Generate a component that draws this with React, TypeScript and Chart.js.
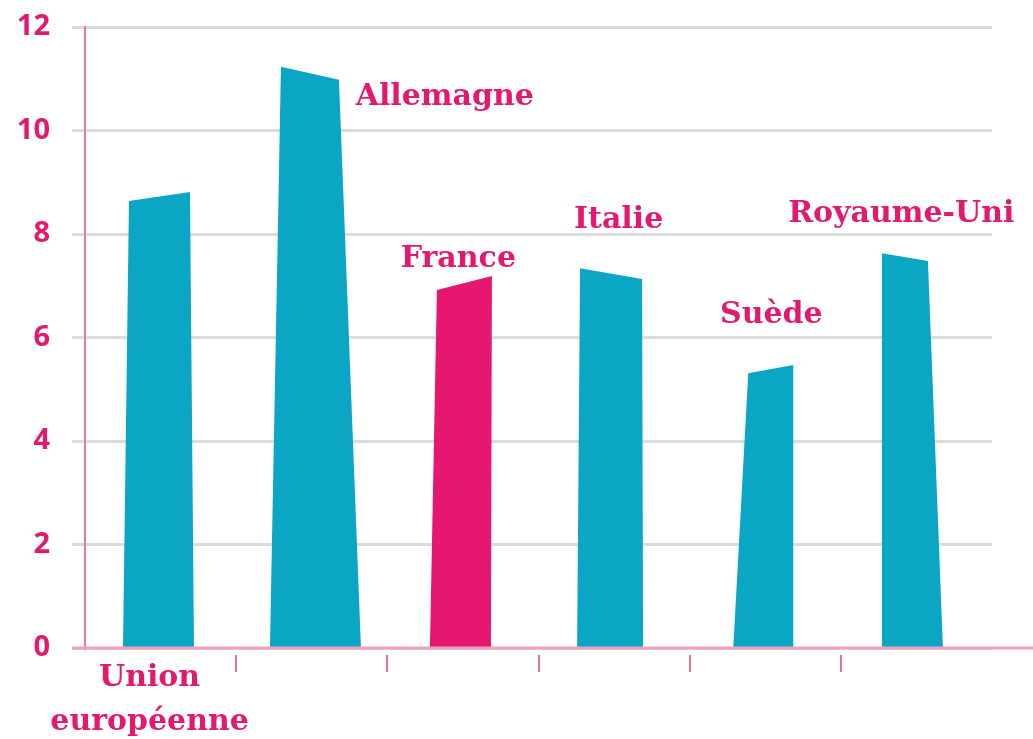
import React, { useEffect, useRef } from "react";
import { Chart, registerables } from "chart.js";

Chart.register(...registerables);

// ---- data ----
const categories = ["Union européenne", "Allemagne", "France", "Italie", "Suède", "Royaume-Uni"];
const topLeftValues = [8.64, 11.23, 6.92, 7.34, 5.31, 7.63];
const topRightValues = [8.81, 10.98, 7.19, 7.13, 5.47, 7.48];
const yTickValues = [0, 2, 4, 6, 8, 10, 12];
const highlightIndex = 2;

// ---- style ----
const TEAL = "#0AA6C4";
const PINK = "#E5176F";
const TEXT_PINK = "#E2196F";
const GRID = "#DCDCDC";
const AXIS_PINK = "#F0A0BC";
const TICK_PINK = "#E8709A";
const LABEL_FONT = "bold 30px 'DejaVu Serif'";

// bar outline offsets in px from the bar centre: [bottomLeft, topLeft, topRight, bottomRight]
const barOutline = [
  [-37.6, -31.6, 29.4, 33.4],
  [-41.8, -30.8, 27.2, 49.2],
  [-33, -26, 29, 28],
  [-37, -34, 28, 29],
  [-32, -17, 28, 28],
  [-34.5, -34.5, 11.5, 26.5],
];

// callout label anchors (category units, value units), baseline-centred
const calloutAnchors: (null | { x: number; y: number })[] = [
  null,
  { x: 1.88, y: 10.49 },
  { x: 1.97, y: 7.36 },
  { x: 3.03, y: 8.12 },
  { x: 4.04, y: 6.28 },
  { x: 4.9, y: 8.23 },
];

const shapePlugin = {
  id: "shapedBars",
  afterDatasetsDraw(chart: any) {
    const ctx = chart.ctx as CanvasRenderingContext2D;
    const xs = chart.scales.x;
    const ys = chart.scales.y;
    const meta = chart.getDatasetMeta(0);
    const base = ys.getPixelForValue(0);
    ctx.save();
    meta.data.forEach((el: any, i: number) => {
      const o = barOutline[i];
      ctx.beginPath();
      ctx.moveTo(el.x + o[0], base);
      ctx.lineTo(el.x + o[1], ys.getPixelForValue(topLeftValues[i]));
      ctx.lineTo(el.x + o[2], ys.getPixelForValue(topRightValues[i]));
      ctx.lineTo(el.x + o[3], base);
      ctx.closePath();
      ctx.fillStyle = i === highlightIndex ? PINK : TEAL;
      ctx.fill();
    });

    // x axis line
    ctx.beginPath();
    ctx.strokeStyle = AXIS_PINK;
    ctx.lineWidth = 3;
    ctx.moveTo(chart.chartArea.left - 13, base);
    ctx.lineTo(chart.width, base);
    ctx.stroke();

    // category separators below the axis
    const step = xs.getPixelForValue(1) - xs.getPixelForValue(0);
    ctx.strokeStyle = TICK_PINK;
    ctx.lineWidth = 2;
    for (let i = 0; i < categories.length - 1; i++) {
      const px = Math.round(xs.getPixelForValue(i) + step / 2);
      ctx.beginPath();
      ctx.moveTo(px, base + 7);
      ctx.lineTo(px, base + 24);
      ctx.stroke();
    }

    // callout labels
    ctx.font = LABEL_FONT;
    ctx.fillStyle = TEXT_PINK;
    ctx.textAlign = "center";
    ctx.textBaseline = "alphabetic";
    calloutAnchors.forEach((a, i) => {
      if (!a) return;
      const px = xs.getPixelForValue(0) + a.x * step;
      const py = ys.getPixelForValue(a.y);
      ctx.fillText(categories[i], px, py);
    });
    ctx.restore();
  },
};

export default function App() {
  const canvasRef = useRef<HTMLCanvasElement | null>(null);

  useEffect(() => {
    if (!canvasRef.current) return;
    const chart = new Chart(canvasRef.current, {
      type: "bar",
      data: {
        labels: categories,
        datasets: [
          {
            data: topLeftValues.map((v, i) => Math.max(v, topRightValues[i])),
            backgroundColor: "rgba(0,0,0,0)",
            borderWidth: 0,
          },
        ],
      },
      options: {
        animation: false,
        responsive: true,
        maintainAspectRatio: false,
        events: [],
        layout: { padding: { top: 27, right: 41, left: 0, bottom: 0 } },
        plugins: {
          legend: { display: false },
          tooltip: { enabled: false },
        },
        scales: {
          x: {
            offset: true,
            grid: { display: false, drawTicks: false },
            border: { display: false },
            ticks: {
              autoSkip: false,
              maxRotation: 0,
              padding: 8,
              labelOffset: -11,
              color: TEXT_PINK,
              font: { family: "'DejaVu Serif'", size: 30, weight: "bold", lineHeight: 44 / 30 },
              callback: (_v: any, i: number) => (i === 0 ? ["Union", "européenne"] : ""),
            },
            afterFit: (s: any) => {
              s.height = 91;
              s.paddingLeft = 0;
              s.paddingRight = 0;
            },
          },
          y: {
            min: 0,
            max: 12,
            afterBuildTicks: (s: any) => {
              s.ticks = yTickValues.map((v) => ({ value: v }));
            },
            grid: {
              color: GRID,
              lineWidth: 3,
              drawTicks: true,
              tickLength: 13,
              tickColor: GRID,
            },
            border: { display: true, color: "#E9779F", width: 2 },
            ticks: {
              padding: 22,
              color: TEXT_PINK,
              font: { family: "'Open Sans'", size: 29, weight: "bold" },
            },
            afterFit: (s: any) => {
              s.width = 85;
              s.paddingTop = 0;
              s.paddingBottom = 0;
            },
          },
        },
      },
      plugins: [shapePlugin],
    });
    return () => chart.destroy();
  }, []);

  return (
    <div style={{ position: "absolute", left: 0, top: 0, width: 1033, height: 739, background: "#fff" }}>
      <canvas ref={canvasRef} />
    </div>
  );
}
